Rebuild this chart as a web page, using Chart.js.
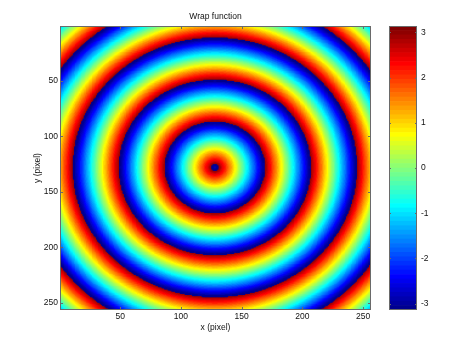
<!DOCTYPE html>
<html>
<head>
<meta charset="utf-8">
<script src="https://cdn.jsdelivr.net/npm/chart.js@4.4.1/dist/chart.umd.min.js"></script>
<style>
  body { margin: 0; background: #fff; }
  #wrap { position: relative; width: 468px; height: 349px; }
  #wrap canvas { position: absolute; left: 0; top: 0; }
</style>
</head>
<body>
<div id="wrap">
  <canvas id="phaseChart" width="468" height="349"></canvas>
  <canvas id="colorbarChart" width="468" height="349"></canvas>
</div>
<script>
// tick labels
const xTicks = [50, 100, 150, 200, 250];
const yTicks = [50, 100, 150, 200, 250];
const cbarTicks = [-3, -2, -1, 0, 1, 2, 3];

// image: 256 x 256 pixels, phase wrapped to [-pi, pi]
const imageSize = 256;
const ringCentre = [128, 128];
// radii (in pixels) where the phase jumps from -pi back to +pi
const wrapRadii = [2.75, 40.8, 78.6, 116.5, 154.5, 192.5];

const FONT = { family: '"Liberation Sans", Arial, sans-serif', size: 8.5 };
const TEXT = '#111';
const LINE = '#6a6a6a';

function jetColormap(m) { // same as matlab jet(m)
    const n = Math.ceil(m / 4);
    const u = [];
    for (let i = 1; i <= n; i++) u.push(i / n);
    for (let i = 1; i < n; i++) u.push(1);
    for (let i = n; i >= 1; i--) u.push(i / n);
    const gStart = Math.ceil(n / 2) - (m % 4 === 1 ? 1 : 0);
    const map = Array.from({ length: m }, () => [0, 0, 0]);
    u.forEach((val, k) => {
        const g = gStart + k + 1;
        const r = g + n, b = g - n;
        if (g >= 1 && g <= m) map[g - 1][1] = val;
        if (r >= 1 && r <= m) map[r - 1][0] = val;
        if (b >= 1 && b <= m) map[b - 1][2] = val;
    });
    return map.map(c => `rgb(${c.map(v => Math.round(v * 255)).join(',')})`);
}
const jet = jetColormap(64);

function phaseAt(r) {
    // phase falls linearly from +pi to -pi between two wrap radii
    if (r < wrapRadii[0]) {
        const p = wrapRadii[1] - wrapRadii[0];
        return -Math.PI + 2 * Math.PI * (wrapRadii[0] - r) / p;
    }
    for (let k = 0; k < wrapRadii.length - 1; k++) {
        if (r < wrapRadii[k + 1]) {
            return Math.PI - 2 * Math.PI * (r - wrapRadii[k]) / (wrapRadii[k + 1] - wrapRadii[k]);
        }
    }
    return -Math.PI;
}

// one scatter dataset per colormap level
const levels = jet.map(() => []);
for (let y = 1; y <= imageSize; y++) {
    for (let x = 1; x <= imageSize; x++) {
        const r = Math.hypot(x - ringCentre[0], y - ringCentre[1]);
        const v = phaseAt(r);
        let idx = Math.floor((v + Math.PI) / (2 * Math.PI) * jet.length);
        idx = Math.max(0, Math.min(jet.length - 1, idx));
        levels[idx].push({ x: x, y: y });
    }
}

const framePlugin = {
    id: 'frame',
    afterDatasetsDraw(chart, args, opts) {
        const { ctx, chartArea: a } = chart;
        ctx.save();
        ctx.strokeStyle = LINE;
        ctx.lineWidth = 1;
        ctx.strokeRect(Math.round(a.left) + 0.5, Math.round(a.top) + 0.5,
            Math.round(a.width) - 1, Math.round(a.height) - 1);
        ctx.beginPath();
        (opts.x || []).forEach(v => {
            const px = Math.round(chart.scales.x.getPixelForValue(v)) + 0.5;
            ctx.moveTo(px, a.bottom); ctx.lineTo(px, a.bottom - opts.len);
            ctx.moveTo(px, a.top); ctx.lineTo(px, a.top + opts.len);
        });
        (opts.y || []).forEach(v => {
            const py = Math.round(chart.scales.y.getPixelForValue(v)) + 0.5;
            ctx.moveTo(a.left, py); ctx.lineTo(a.left + opts.len, py);
            ctx.moveTo(a.right, py); ctx.lineTo(a.right - opts.len, py);
        });
        ctx.stroke();
        ctx.restore();
    }
};

new Chart(document.getElementById('phaseChart'), {
    type: 'scatter',
    data: {
        datasets: levels.map((pts, i) => ({
            data: pts,
            backgroundColor: jet[i],
            borderWidth: 0,
            pointStyle: 'rect',
            pointRadius: 1.5,
            pointHoverRadius: 1.5
        }))
    },
    options: {
        responsive: false,
        animation: false,
        events: [],
        parsing: false,
        layout: { padding: { left: 0, top: 0, right: 97, bottom: 0 } },
        plugins: {
            legend: { display: false },
            tooltip: { enabled: false },
            title: {
                display: true, text: 'Wrap function', fullSize: false,
                color: TEXT, font: { ...FONT, weight: 'normal' },
                padding: { top: 12, bottom: 3.8 }
            },
            frame: { x: xTicks, y: yTicks, len: 3 }
        },
        scales: {
            x: {
                type: 'linear', min: 0.5, max: imageSize + 0.5,
                afterBuildTicks: s => { s.ticks = xTicks.map(v => ({ value: v })); },
                afterFit: s => { s.height = 39; },
                grid: { display: false, drawTicks: false },
                border: { display: false },
                ticks: { padding: 2, color: TEXT, font: FONT, maxRotation: 0 },
                title: { display: true, text: 'x (pixel)', color: TEXT, font: FONT, padding: { top: 0, bottom: 16 } }
            },
            y: {
                type: 'linear', min: 0.5, max: imageSize + 0.5, reverse: true,
                afterBuildTicks: s => { s.ticks = yTicks.map(v => ({ value: v })); },
                afterFit: s => { s.width = 60; },
                grid: { display: false, drawTicks: false },
                border: { display: false },
                ticks: { padding: 2, color: TEXT, font: FONT },
                title: { display: true, text: 'y (pixel)', color: TEXT, font: FONT, padding: { top: 33, bottom: 0 } }
            }
        }
    },
    plugins: [framePlugin]
});

// colorbar
const step = 2 * Math.PI / jet.length;
new Chart(document.getElementById('colorbarChart'), {
    type: 'bar',
    data: {
        labels: ['phase'],
        datasets: jet.map((c, i) => ({
            data: [[-Math.PI + i * step, -Math.PI + (i + 1) * step]],
            backgroundColor: c,
            borderWidth: 0
        }))
    },
    options: {
        responsive: false,
        animation: false,
        events: [],
        grouped: false,
        barPercentage: 1,
        categoryPercentage: 1,
        layout: { padding: { left: 389, top: 26, right: 0, bottom: 39 } },
        plugins: {
            legend: { display: false },
            tooltip: { enabled: false },
            frame: { y: cbarTicks, len: 2 }
        },
        scales: {
            x: { display: false },
            y: {
                position: 'right', min: -Math.PI, max: Math.PI,
                afterBuildTicks: s => { s.ticks = cbarTicks.map(v => ({ value: v })); },
                afterFit: s => { s.width = 51; },
                grid: { display: false, drawTicks: false },
                border: { display: false },
                ticks: { padding: 4, color: TEXT, font: FONT }
            }
        }
    },
    plugins: [framePlugin]
});
</script>
</body>
</html>
